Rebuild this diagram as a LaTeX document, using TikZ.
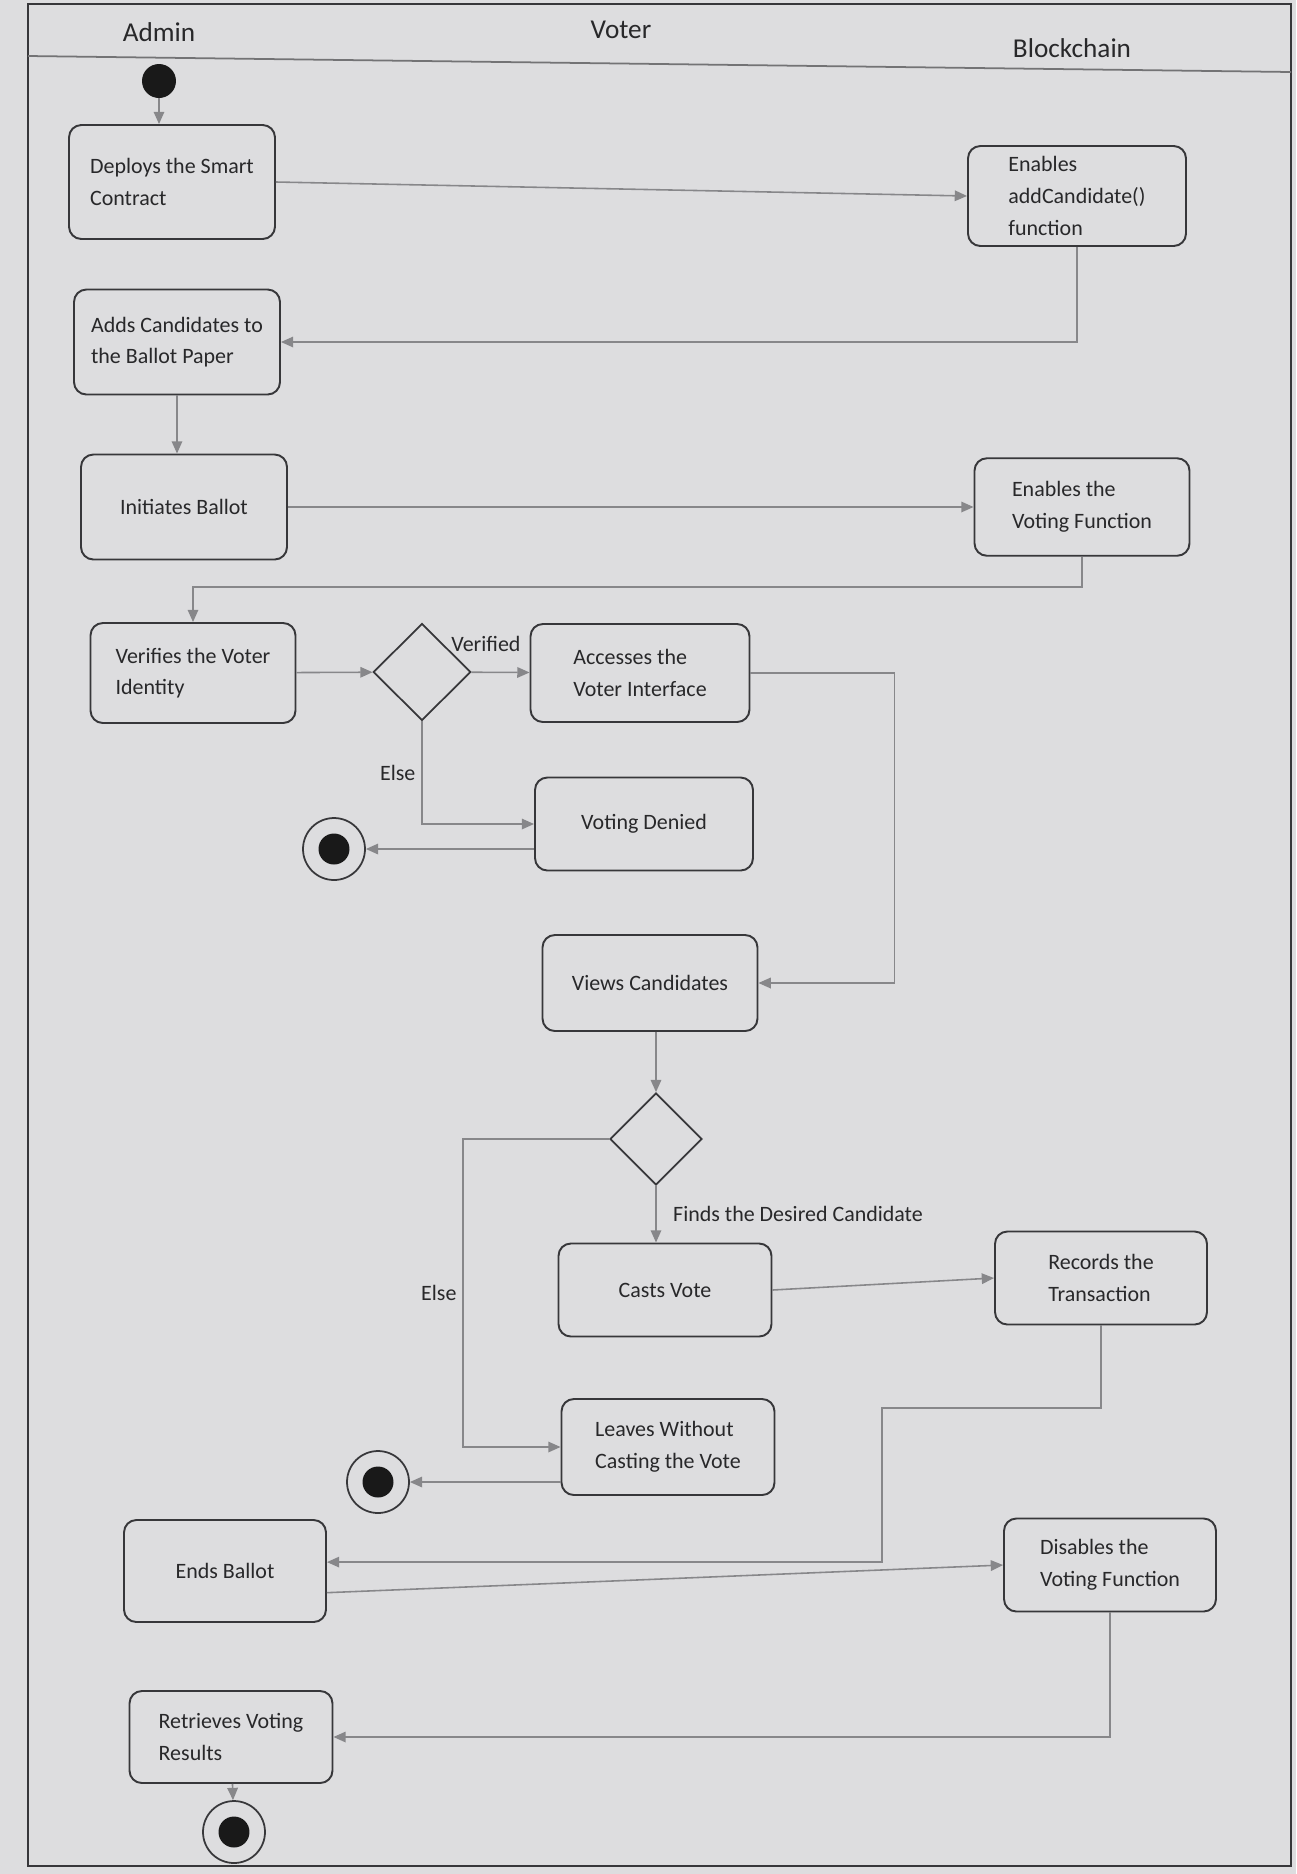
\documentclass[tikz,border=0pt]{standalone}
\usepackage{fontspec}
\setmainfont{Carlito}
\usetikzlibrary{shapes.geometric,arrows.meta,positioning,calc}
\definecolor{paper}{RGB}{221,221,223}
\definecolor{boxline}{RGB}{55,55,58}
\definecolor{flowline}{RGB}{135,135,138}
\definecolor{inktext}{RGB}{40,40,42}

\begin{document}
\begin{tikzpicture}[x=0.02cm, y=-0.02cm, font=\fontsize{12.5}{18}\selectfont, text=inktext,
    act/.style={rectangle, rounded corners=7pt, draw=boxline, line width=1.1pt, minimum width=4.2cm, minimum height=1.9cm, align=left},
    decision/.style={diamond, draw=boxline, line width=1pt, minimum width=1.95cm, minimum height=1.94cm, inner sep=0pt},
    initial/.style={circle, fill=black!90, minimum size=0.68cm, inner sep=0pt},
    final/.style={circle, draw=boxline, line width=1pt, minimum size=1.24cm, inner sep=0pt,
        path picture={\fill[black!90] (path picture bounding box.center) circle (0.31cm);}},
    flow/.style={draw=flowline, line width=0.9pt, -{Triangle[length=7pt,width=6pt,fill=flowline]}},
    lane/.style={font=\fontsize{15.5}{18}\selectfont}]
    \useasboundingbox (0,0) rectangle (1296,1874);
    \fill[paper] (0,0) rectangle (1296,1874);

    % Frame and lanes
    \draw[boxline, line width=1.2pt] (28,4) rectangle (1291,1866);
    \draw[boxline!70, line width=1pt] (28,56) -- (1291,72);
    \node[lane] (admin) at (159,32) {Admin};
    \node[lane] (voter) at (621,30) {Voter};
    \node[lane] (chain) at (1072,48) {Blockchain};

    % Activities
    \node[initial] (start) at (159,81) {};
    \node[act, minimum width=4.12cm, minimum height=2.28cm] (deploy) at (172,182) {Deploys the Smart\\Contract};
    \node[act, minimum width=4.36cm, minimum height=2cm] (enab1) at (1077,196) {Enables\\addCandidate()\\function};
    \node[act, minimum width=4.12cm, minimum height=2.1cm] (adds) at (177,342) {Adds Candidates to\\the Ballot Paper};
    \node[act, minimum width=4.12cm, minimum height=2.1cm] (init) at (184,507) {Initiates Ballot};
    \node[act, minimum width=4.3cm, minimum height=1.95cm] (enab2) at (1082,507) {Enables the\\Voting Function};
    \node[act, minimum width=4.1cm, minimum height=2cm] (verify) at (193,673) {Verifies the Voter\\Identity};
    \node[decision] (dec1) at (422,672) {};
    \node[act, minimum width=4.38cm, minimum height=1.96cm] (access) at (640,673) {Accesses the\\Voter Interface};
    \node[act, minimum width=4.36cm, minimum height=1.86cm] (denied) at (644,824) {Voting Denied};
    \node[final] (end1) at (334,849) {};
    \node[act, minimum width=4.3cm, minimum height=1.92cm] (views) at (650,983) {Views Candidates};
    \node[decision, minimum width=1.84cm, minimum height=1.84cm] (dec2) at (656,1139) {};
    \node[act, minimum width=4.26cm, minimum height=1.86cm] (casts) at (665,1290) {Casts Vote};
    \node[act, minimum width=4.24cm, minimum height=1.86cm] (records) at (1101,1278) {Records the\\Transaction};
    \node[act, minimum width=4.26cm, minimum height=1.92cm] (leaves) at (668,1447) {Leaves Without\\Casting the Vote};
    \node[final] (end2) at (378,1482) {};
    \node[act, minimum width=4.04cm, minimum height=2.04cm] (ends) at (225,1571) {Ends Ballot};
    \node[act, minimum width=4.24cm, minimum height=1.86cm] (disables) at (1110,1565) {Disables the\\Voting Function};
    \node[act, minimum width=4.06cm, minimum height=1.84cm] (retrieves) at (231,1737) {Retrieves Voting\\Results};
    \node[final] (end3) at (234,1832) {};
    \coordinate (recbend) at (882,1408);

    % Control flow
    \draw[flow] (start) -- (start |- deploy.north);
    \draw[flow] (deploy.east) -- (enab1.west);
    \draw[flow] (enab1.south) |- (adds.east);
    \draw[flow] (adds.south) -- (adds.south |- init.north);
    \draw[flow] (init) -- (enab2);
    \draw[flow] (enab2.south) -- ++(0,30) -| (verify.north);
    \draw[flow] (verify) -- (dec1);
    \draw[flow] (dec1) -- node[pos=0.25, above, yshift=8pt] {Verified} (access);
    \draw[flow] (dec1.south) |- node[pos=0.25, left] {Else} (denied.west);
    \draw[flow] (end1 -| denied.west) -- (end1);
    \draw[flow] (access.east) -- ++(144,0) |- (views.east);
    \draw[flow] (dec2 |- views.south) -- (dec2.north);
    \draw[flow] (dec2.south) -- node[right, xshift=6pt] {Finds the Desired Candidate} (dec2.south |- casts.north);
    \draw[flow] (dec2.west) -- ++(-146,0) |- node[pos=0.25, left] {Else} (leaves.west);
    \draw[flow] (end2 -| leaves.west) -- (end2);
    \draw[flow] (casts.east) -- (records.west);
    \draw[flow] (records.south) |- (recbend) |- (ends.5);
    \draw[flow] (ends.-12) -- (disables.west);
    \draw[flow] (disables.south) |- (retrieves.east);
    \draw[flow] (retrieves) -- (end3);
\end{tikzpicture}
\end{document}
